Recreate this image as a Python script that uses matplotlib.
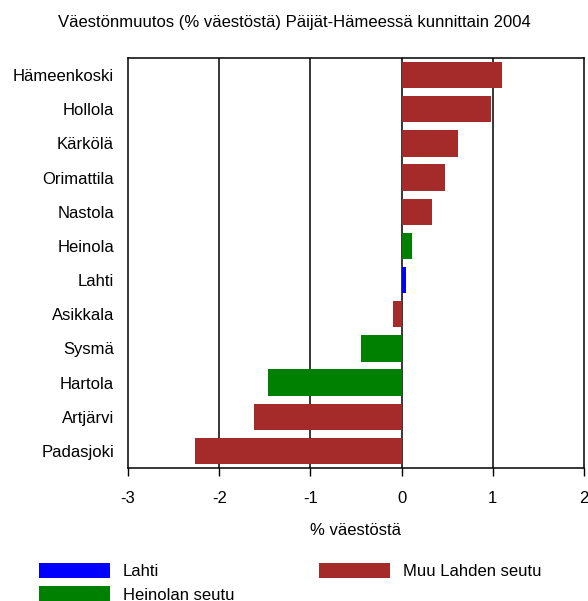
import matplotlib
matplotlib.use("Agg")
import matplotlib.pyplot as plt
from matplotlib.patches import Patch

plt.rcParams['font.family'] = ['Liberation Sans', 'DejaVu Sans']
plt.rcParams['font.size'] = 12

municipalities = ["Hämeenkoski", "Hollola", "Kärkölä", "Orimattila", "Nastola", "Heinola",
                  "Lahti", "Asikkala", "Sysmä", "Hartola", "Artjärvi", "Padasjoki"]
change_pct = [1.10, 0.98, 0.62, 0.48, 0.33, 0.11, 0.05, -0.09, -0.45, -1.46, -1.62, -2.26]
region = ["Muu Lahden seutu", "Muu Lahden seutu", "Muu Lahden seutu", "Muu Lahden seutu",
          "Muu Lahden seutu", "Heinolan seutu", "Lahti", "Muu Lahden seutu",
          "Heinolan seutu", "Heinolan seutu", "Muu Lahden seutu", "Muu Lahden seutu"]
region_colors = {"Lahti": "#0000FF", "Heinolan seutu": "#008000", "Muu Lahden seutu": "#A52A2A"}
x_ticks = [-3, -2, -1, 0, 1, 2]

fig = plt.figure(figsize=(5.88, 6.01), dpi=100)
ax = fig.add_axes([128/588, 1-468/601, (584-128)/588, (468-58)/601])

ypos = list(range(len(municipalities)))
ax.barh(ypos, change_pct, height=0.77, color=[region_colors[r] for r in region], zorder=2)
ax.set_ylim(len(municipalities)-0.5, -0.5)
ax.set_xlim(-3, 2)
ax.set_yticks(ypos)
ax.set_yticklabels(municipalities)
ax.set_xticks(x_ticks)
ax.set_xticklabels([str(t) for t in x_ticks])
ax.tick_params(axis='y', length=0, pad=10)
ax.tick_params(axis='x', length=6, width=1, pad=10.5, direction='out')
for t in x_ticks[1:-1]:
    ax.axvline(t, color='black', lw=1.1, zorder=1)
for s in ax.spines.values():
    s.set_color('black')
    s.set_linewidth(1.1)
ax.set_xlabel("% väestöstä", labelpad=12)

fig.text(0.5, 1-22/601, "Väestönmuutos (% väestöstä) Päijät-Hämeessä kunnittain 2004",
         ha='center', va='center', fontsize=12)

h1 = [Patch(facecolor=region_colors["Lahti"], label="Lahti"),
      Patch(facecolor=region_colors["Heinolan seutu"], label="Heinolan seutu")]
h2 = [Patch(facecolor=region_colors["Muu Lahden seutu"], label="Muu Lahden seutu")]
common = dict(loc='upper left', frameon=False, borderpad=0, borderaxespad=0,
              handlelength=4.26, handleheight=1.02, handletextpad=0.76, labelspacing=0.42,
              fontsize=12)
fig.legend(handles=h1, bbox_to_anchor=(39/588, 1-563/601), **common)
fig.legend(handles=h2, bbox_to_anchor=(319/588, 1-563/601), **common)

fig.savefig("out.png", dpi=100)
